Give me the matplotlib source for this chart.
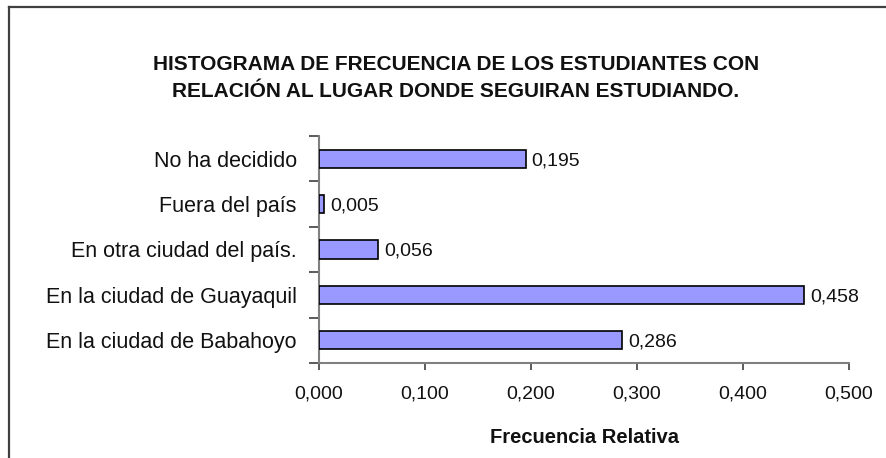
import matplotlib
matplotlib.use("Agg")
import matplotlib.pyplot as plt
from matplotlib.lines import Line2D
from matplotlib.ticker import FixedLocator, FuncFormatter
import numpy as np

# datos (de abajo hacia arriba, como en el grafico)
categorias = [
    "En la ciudad de Babahoyo",
    "En la ciudad de Guayaquil",
    "En otra ciudad del país.",
    "Fuera del país",
    "No ha decidido",
]
frecuencia_relativa = [0.286, 0.458, 0.056, 0.005, 0.195]
ticks_x = [0.0, 0.1, 0.2, 0.3, 0.4, 0.5]

titulo_1 = "HISTOGRAMA DE FRECUENCIA DE LOS ESTUDIANTES CON"
titulo_2 = "RELACIÓN AL LUGAR DONDE SEGUIRAN ESTUDIANDO."
etiqueta_x = "Frecuencia Relativa"


def coma(v, pos=None):
    return f"{v:.3f}".replace(".", ",")


plt.rcParams["font.family"] = ["Liberation Sans", "DejaVu Sans"]

W, H = 887, 458
fig = plt.figure(figsize=(W / 100, H / 100), dpi=100)
fig.patch.set_facecolor("white")

# area del eje (en pixeles de la imagen)
x0, x1 = 319, 849
y0, y1 = 136, 363
ax = fig.add_axes([x0 / W, 1 - y1 / H, (x1 - x0) / W, (y1 - y0) / H])

pos = np.arange(len(categorias))
ax.barh(pos, frecuencia_relativa, height=0.4, color="#9999FF",
        edgecolor="black", linewidth=1.2, zorder=3)

for p, v in zip(pos, frecuencia_relativa):
    ax.annotate(coma(v), xy=(v, p), xytext=(6, 0), textcoords="offset pixels",
                ha="left", va="center_baseline", fontsize=14, color="#111111")

ax.set_xlim(0, 0.5)
ax.set_ylim(-0.5, len(categorias) - 0.5)
ax.set_xticks(ticks_x)
ax.xaxis.set_major_formatter(FuncFormatter(coma))
ax.set_yticks(pos)
ax.set_yticklabels(categorias, fontsize=15.5)
ax.yaxis.set_minor_locator(FixedLocator(np.arange(-0.5, len(categorias), 1.0)))

ax.tick_params(axis="y", which="major", length=0, pad=16, labelcolor="#111111")
ax.tick_params(axis="y", which="minor", length=7, width=1.2, color="#404040")
ax.tick_params(axis="x", which="major", length=5, width=1.2, color="#404040",
               pad=11, labelsize=14, labelcolor="#111111")

for s in ["top", "right"]:
    ax.spines[s].set_visible(False)
for s in ["left", "bottom"]:
    ax.spines[s].set_color("#808080")
    ax.spines[s].set_linewidth(1.5)

ax.set_xlabel(etiqueta_x, fontsize=14.5, fontweight="bold", color="#111111")
ax.xaxis.label.set_va("baseline")
ax.xaxis.set_label_coords(0.5, (y1 - 443) / (y1 - y0))

fig.text(456 / W, 1 - 70 / H, titulo_1, ha="center", va="baseline",
         fontsize=15, fontweight="bold", color="#111111")
fig.text(456 / W, 1 - 97 / H, titulo_2, ha="center", va="baseline",
         fontsize=15, fontweight="bold", color="#111111")

# marco del area del grafico (solo se ve borde izquierdo y superior)
bx, by = 9 / W, 1 - 6.5 / H
fig.add_artist(Line2D([bx, bx], [0, by], transform=fig.transFigure,
                      color="#404040", linewidth=1.6))
fig.add_artist(Line2D([bx, 1], [by, by], transform=fig.transFigure,
                      color="#404040", linewidth=1.6))

fig.savefig("out.png", dpi=100)
